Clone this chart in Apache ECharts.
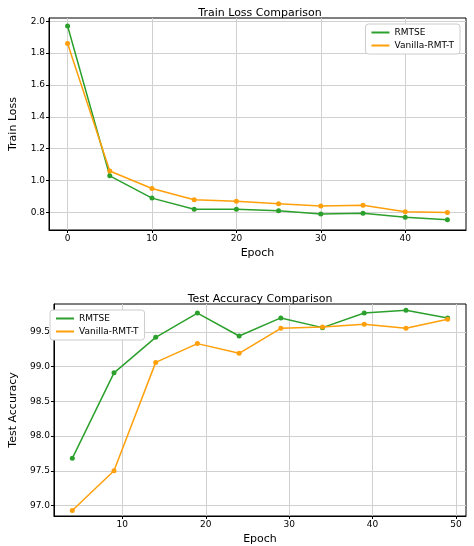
<!DOCTYPE html>
<html><head><meta charset="utf-8">
<script src="https://cdn.jsdelivr.net/npm/echarts@6/dist/echarts.min.js"></script>
<style>html,body{margin:0;background:#fff}#c{width:474px;height:546px}</style>
</head><body><div id="c"></div>
<script>
const lossEpochs = [0, 5, 10, 15, 20, 25, 30, 35, 40, 45];
const lossRmtse = [1.97, 1.03, 0.89, 0.82, 0.82, 0.81, 0.79, 0.795, 0.77, 0.755];
const lossVanilla = [1.86, 1.06, 0.95, 0.88, 0.87, 0.855, 0.84, 0.845, 0.805, 0.80];
const accEpochs = [4, 9, 14, 19, 24, 29, 34, 39, 44, 49];
const accRmtse = [97.68, 98.91, 99.42, 99.77, 99.44, 99.70, 99.56, 99.77, 99.81, 99.70];
const accVanilla = [96.93, 97.50, 99.06, 99.33, 99.19, 99.55, 99.57, 99.61, 99.55, 99.68];
const lossTicks = [0.8, 1.0, 1.2, 1.4, 1.6, 1.8, 2.0];
const accTicks = [97.0, 97.5, 98.0, 98.5, 99.0, 99.5];

const G = '#2ca02c', O = '#ff9f0a';
const font = 'DejaVu Sans';
const pair = (xs, ys) => xs.map((x, i) => [x, ys[i]]);
function xAxis(idx, min, max, ticks) {
  return {
    type: 'value', gridIndex: idx, min, max,
    name: 'Epoch', nameLocation: 'middle', nameGap: 18,
    nameTextStyle: { fontFamily: font, fontSize: 11, color: '#000' },
    axisLine: { onZero: false, lineStyle: { color: '#000' } },
    axisTick: { customValues: ticks, length: 3, lineStyle: { color: '#000' } },
    axisLabel: { customValues: ticks, fontFamily: font, fontSize: 9, color: '#000', margin: 4 },
    splitLine: { show: true, lineStyle: { color: '#d0d0d0' } }
  };
}
function yAxis(idx, min, max, ticks, name, dec) {
  return {
    type: 'value', gridIndex: idx, min, max,
    name, nameLocation: 'middle', nameGap: 30,
    nameTextStyle: { fontFamily: font, fontSize: 11, color: '#000' },
    axisLine: { show: true, onZero: false, lineStyle: { color: '#000' } },
    axisTick: { show: true, customValues: ticks, length: 3, lineStyle: { color: '#000' } },
    axisLabel: { customValues: ticks, fontFamily: font, fontSize: 9, color: '#000', margin: 4,
      formatter: v => v.toFixed(dec) },
    splitLine: { show: true, lineStyle: { color: '#d0d0d0' } }
  };
}
function line(name, color, xi, data) {
  return { name, type: 'line', xAxisIndex: xi, yAxisIndex: xi, data, color,
    symbol: 'circle', symbolSize: 5, lineStyle: { width: 1.5, color },
    itemStyle: { color }, animation: false };
}
const legendCommon = {
  orient: 'vertical', itemWidth: 18, itemHeight: 2, itemGap: 4,
  icon: 'rect', borderColor: '#ccc', borderWidth: 1, borderRadius: 3,
  padding: [4, 6], backgroundColor: '#fff',
  textStyle: { fontFamily: font, fontSize: 9, color: '#000' }
};
const chart = echarts.init(document.getElementById('c'));
chart.setOption({
  animation: false,
  title: [
    { text: 'Train Loss Comparison', left: 255, top: 3, textAlign: 'center',
      textStyle: { fontFamily: font, fontSize: 11, fontWeight: 'normal', color: '#000' } },
    { text: 'Test Accuracy Comparison', left: 255, top: 289, textAlign: 'center',
      textStyle: { fontFamily: font, fontSize: 11, fontWeight: 'normal', color: '#000' } }
  ],
  legend: [
    Object.assign({ data: ['RMTSE', 'Vanilla-RMT-T'], right: 14, top: 24 }, legendCommon),
    Object.assign({ data: ['RMTSE', 'Vanilla-RMT-T'], left: 50, top: 310 }, legendCommon)
  ],
  grid: [
    { left: 44, right: 8, top: 18, height: 212, show: true, borderColor: '#000', borderWidth: 1 },
    { left: 44, right: 8, top: 304, height: 212, show: true, borderColor: '#000', borderWidth: 1 }
  ],
  xAxis: [xAxis(0, -2.2, 47.2, [0, 10, 20, 30, 40]), xAxis(1, 1.8, 51.2, [10, 20, 30, 40, 50])],
  yAxis: [yAxis(0, 0.69, 2.02, lossTicks, 'Train Loss', 1), yAxis(1, 96.85, 99.9, accTicks, 'Test Accuracy', 1)],
  series: [
    line('RMTSE', G, 0, pair(lossEpochs, lossRmtse)),
    line('Vanilla-RMT-T', O, 0, pair(lossEpochs, lossVanilla)),
    line('RMTSE', G, 1, pair(accEpochs, accRmtse)),
    line('Vanilla-RMT-T', O, 1, pair(accEpochs, accVanilla))
  ]
});
</script></body></html>
